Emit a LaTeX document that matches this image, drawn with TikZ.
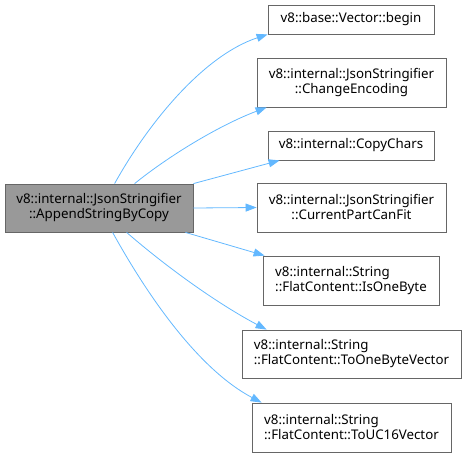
\documentclass[tikz,border=0pt]{standalone}
\usepackage{fontspec}
\setmainfont{Noto Sans}
\usetikzlibrary{arrows.meta}
\definecolor{edgeblue}{HTML}{63B8FF}
\definecolor{boxgray}{HTML}{666666}
\definecolor{mainfill}{HTML}{999999}
\tikzset{
  fn/.style={draw=boxgray, fill=white, line width=0.8pt, inner sep=0pt, font=\fontsize{13.3}{15}\selectfont, text=black},
  mainfn/.style={fn, fill=mainfill},
  call/.style={draw=edgeblue, line width=0.8pt, -{Triangle[length=11pt,width=8pt]}}
}
\begin{document}
\begin{tikzpicture}[x=1pt,y=-1pt]
\useasboundingbox (0,0) rectangle (466,458);
\node[mainfn, minimum width=188pt, minimum height=48pt, align=center] (main) at (99,208) {v8::internal::JsonStringifier\\::AppendStringByCopy};
\node[fn, minimum width=166pt, minimum height=29pt] (n1) at (351,19.5) {v8::base::Vector::begin};
\node[fn, minimum width=189pt, minimum height=49pt, align=center] (n2) at (351.5,82.5) {v8::internal::JsonStringifier\\::ChangeEncoding};
\node[fn, minimum width=166pt, minimum height=29pt] (n3) at (351,145.5) {v8::internal::CopyChars};
\node[fn, minimum width=189pt, minimum height=49pt, align=center] (n4) at (351.5,207.5) {v8::internal::JsonStringifier\\::CurrentPartCanFit};
\node[fn, minimum width=176pt, minimum height=49pt, align=left] (n5) at (351,280.5) {v8::internal::String\\::FlatContent::IsOneByte};
\node[fn, minimum width=219pt, minimum height=48pt, align=left] (n6) at (351.5,354) {v8::internal::String\\::FlatContent::ToOneByteVector};
\node[fn, minimum width=199pt, minimum height=49pt, align=left] (n7) at (351.5,427.5) {v8::internal::String\\::FlatContent::ToUC16Vector};

\draw[call] ([xshift=110pt]main.north west) .. controls (150,120) and (205,55) .. (n1.south west);
\draw[call] ([xshift=130pt]main.north west) .. controls (170,155) and (220,125) .. ([xshift=10pt]n2.south west);
\draw[call] (main.north east) -- ([xshift=12pt]n3.south west);
\draw[call] (main.east) -- (n4.west);
\draw[call] ([xshift=-8pt]main.south east) -- ([xshift=2pt]n5.north west);
\draw[call] ([xshift=122pt]main.south west) .. controls (170,270) and (220,305) .. ([xshift=25pt]n6.north west);
\draw[call] ([xshift=108pt]main.south west) .. controls (150,300) and (200,370) .. ([xshift=10pt]n7.north west);
\end{tikzpicture}
\end{document}
